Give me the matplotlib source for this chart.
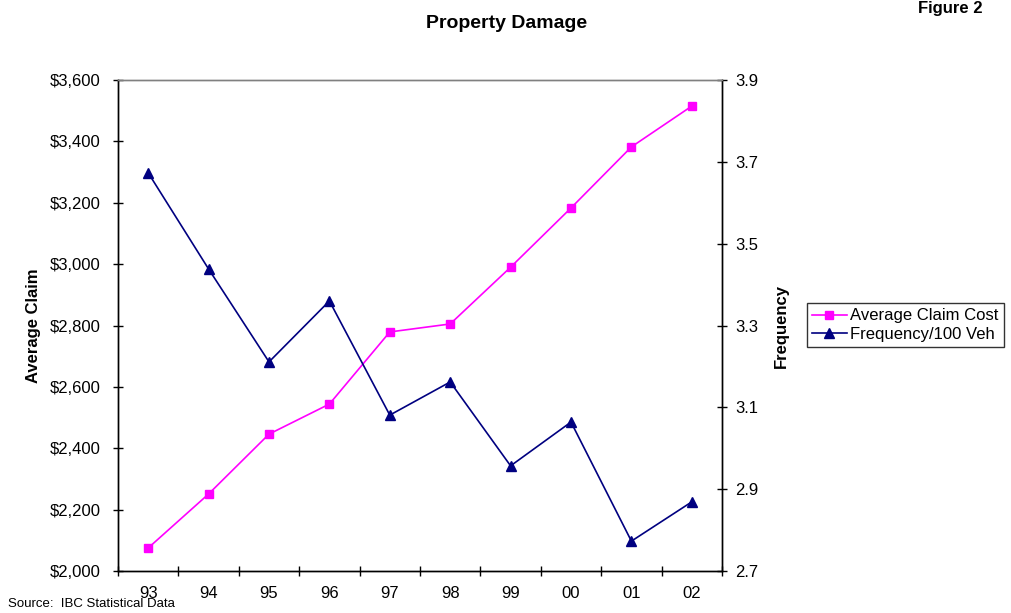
import numpy as np
import matplotlib.pyplot as plt
from matplotlib.ticker import FuncFormatter

plt.rcParams['font.family'] = ['Liberation Sans', 'DejaVu Sans']

# dados: custo medio do sinistro e frequencia por 100 veiculos
years = ['93', '94', '95', '96', '97', '98', '99', '00', '01', '02']
avg_claim = [2075, 2251, 2446, 2544, 2779, 2805, 2990, 3183, 3382, 3515]
frequency = [3.673, 3.438, 3.211, 3.360, 3.081, 3.162, 2.957, 3.064, 2.773, 2.869]

x = np.arange(len(years))

fig = plt.figure(figsize=(10.12, 6.13), dpi=100)
ax1 = fig.add_axes([118/1012, 42/613, 604/1012, 491/613])
ax2 = ax1.twinx()

l1, = ax1.plot(x, avg_claim, color='#ff00ff', marker='s', markersize=6,
               linewidth=1.2, label='Average Claim Cost', zorder=3)
l2, = ax2.plot(x, frequency, color='#000080', marker='^', markersize=7,
               linewidth=1.2, label='Frequency/100 Veh', zorder=3)

# eixo esquerdo
ax1.set_xlim(-0.5, len(years) - 0.5)
ax1.set_ylim(2000, 3600)
ax1.set_yticks(np.arange(2000, 3601, 200))
ax1.yaxis.set_major_formatter(FuncFormatter(lambda v, p: '${:,.0f}'.format(v)))
ax1.tick_params(axis='y', direction='inout', length=7, width=1, labelsize=12, pad=9)

# categorias no centro, marcas nas divisas
ax1.set_xticks(x)
ax1.set_xticklabels(years)
ax1.set_xticks(np.arange(-0.5, len(years), 1), minor=True)
ax1.tick_params(axis='x', which='major', length=0, labelsize=12, pad=11)
ax1.tick_params(axis='x', which='minor', direction='inout', length=7, width=1)

# eixo direito
ax2.set_ylim(2.7, 3.9)
ax2.set_yticks([2.7, 2.9, 3.1, 3.3, 3.5, 3.7, 3.9])
ax2.yaxis.set_major_formatter(FuncFormatter(lambda v, p: '{:.1f}'.format(v)))
ax2.tick_params(axis='y', direction='inout', length=7, width=1, labelsize=12, pad=6)

for ax in (ax1, ax2):
    ax.spines['top'].set_color('#808080')
    ax.spines['top'].set_linewidth(1)
    for s in ('left', 'right', 'bottom'):
        ax.spines[s].set_color('black')
        ax.spines[s].set_linewidth(1)

ax1.set_ylabel('Average Claim', fontsize=12, fontweight='bold', labelpad=6)
ax2.set_ylabel('Frequency', fontsize=12, fontweight='bold', labelpad=11)

fig.text(507/1012, 1 - 23/613, 'Property Damage', ha='center', va='center',
         fontsize=14, fontweight='bold')
fig.text(950/1012, 1 - 8/613, 'Figure 2', ha='center', va='center',
         fontsize=12, fontweight='bold')
fig.text(8/1012, 1 - 604/613, 'Source:  IBC Statistical Data', ha='left',
         va='center', fontsize=9.5)

leg = fig.legend(handles=[l1, l2], loc='center left',
                 bbox_to_anchor=(807/1012, 1 - 325/613), fontsize=12,
                 frameon=True, fancybox=False, edgecolor='black',
                 handlelength=2.1, borderpad=0.3, labelspacing=0.2,
                 handletextpad=0.2, borderaxespad=0)
leg.get_frame().set_linewidth(1)

fig.savefig('out.png', dpi=100)
